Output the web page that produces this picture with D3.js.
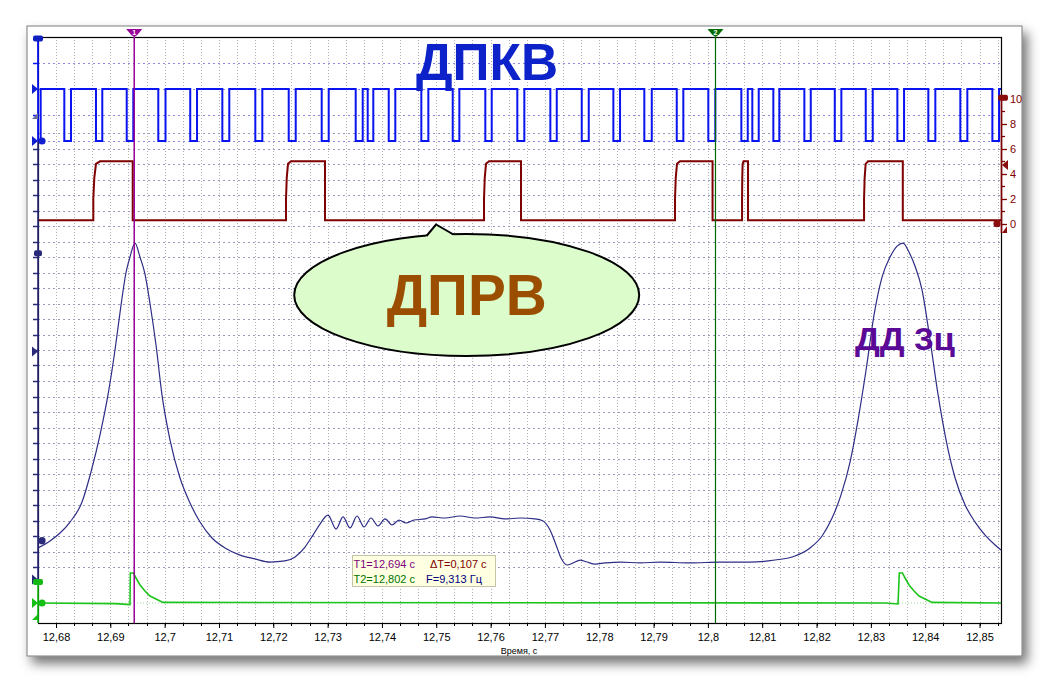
<!DOCTYPE html>
<html><head><meta charset="utf-8">
<script src="https://cdn.jsdelivr.net/npm/d3@7/dist/d3.min.js"></script>
<style>
body{margin:0;background:#fff;}
svg{display:block;font-family:"Liberation Sans",Arial,sans-serif;}
</style>
</head><body>
<svg id="c" width="1049" height="684"></svg>
<script>
// ---------- DATA ----------
const xTickValues = [12.68,12.69,12.70,12.71,12.72,12.73,12.74,12.75,12.76,12.77,12.78,12.79,12.80,12.81,12.82,12.83,12.84,12.85];
const xTickLabels = ["12,68","12,69","12,7","12,71","12,72","12,73","12,74","12,75","12,76","12,77","12,78","12,79","12,8","12,81","12,82","12,83","12,84","12,85"];
const redTickValues = [0,1,2,3,4,5,6,7,8,9,10];
const redTickLabels = ["0","","2","","4","","6","","8","","10"];
const xAxisTitle = "Время, с";

// ДПКВ (crankshaft sensor) – low intervals of the square wave (s)
const dpkvLowStart = [12.67669,12.68153,12.68736,12.69302,12.69883,12.70471,12.71062,12.71669,12.72284,12.72891,12.73517,12.73738,12.74125,12.74725,12.75303,12.75903,12.76492,12.77100,12.77678,12.78260,12.78830,12.79427,12.80008,12.80616,12.80818,12.81205,12.81776,12.82336,12.82906,12.83488,12.84058,12.84647,12.85237];
const dpkvLowEnd   = [12.67718,12.68276,12.68852,12.69423,12.70016,12.70596,12.71190,12.71798,12.72413,12.73020,12.73646,12.73841,12.74246,12.74854,12.75425,12.76021,12.76621,12.77218,12.77807,12.78383,12.78967,12.79548,12.80137,12.80734,12.80936,12.81315,12.81894,12.82457,12.83035,12.83611,12.84187,12.84776,12.85360];
const dpkvHigh = 2, dpkvLow = 0;

// ДПРВ (camshaft sensor) pulses
const prvRise = [12.68687,12.72234,12.75879,12.79395,12.80629,12.82875];
const prvTop  = [12.68810,12.72326,12.75971,12.79487,12.80656,12.82949];
const prvFall = [12.69412,12.72952,12.76560,12.80086,12.80739,12.83588];
const prvLow = 0.27, prvHigh = 5.0;

// ДД 3ц (pressure sensor, cylinder 3)
const ddTime = [12.67669,12.67890,12.68074,12.68258,12.68479,12.68644,12.68810,12.68957,12.69086,12.69197,12.69289,12.69362,12.69454,12.69546,12.69638,12.69730,12.69841,12.69951,12.70099,12.70283,12.70467,12.70651,12.70872,12.71111,12.71388,12.71664,12.71940,12.72216,12.72400,12.72584,12.72731,12.72860,12.73007,12.73155,12.73284,12.73413,12.73541,12.73670,12.73799,12.73928,12.74057,12.74186,12.74314,12.74443,12.74590,12.74793,12.74922,12.75161,12.75437,12.75714,12.75990,12.76266,12.76542,12.76818,12.76965,12.77094,12.77205,12.77297,12.77407,12.77518,12.77647,12.77776,12.77923,12.78107,12.78383,12.78751,12.79119,12.79672,12.80224,12.80776,12.81236,12.81604,12.81881,12.82102,12.82286,12.82451,12.82617,12.82764,12.82912,12.83059,12.83206,12.83354,12.83483,12.83593,12.83704,12.83814,12.83943,12.84090,12.84238,12.84385,12.84551,12.84735,12.84919,12.85103,12.85287,12.85396];
const ddValue = [2.23,2.68,3.19,3.90,5.19,7.13,9.52,12.10,15.00,17.90,20.00,21.00,21.90,21.00,19.90,18.00,15.32,12.10,9.19,6.74,5.13,3.90,2.87,2.23,1.77,1.52,1.32,1.39,1.65,2.29,3.06,3.77,4.35,3.45,4.23,3.52,4.29,3.58,4.16,3.65,4.10,3.71,4.03,3.84,4.03,4.10,4.23,4.16,4.29,4.16,4.23,4.10,4.16,4.10,3.97,3.39,2.42,1.58,1.13,1.26,1.45,1.32,1.19,1.26,1.32,1.26,1.32,1.26,1.32,1.32,1.45,1.71,2.23,3.00,4.16,5.65,7.77,10.48,13.71,17.26,19.70,21.00,21.70,21.90,21.30,20.40,18.87,15.65,12.10,9.19,6.74,5.00,3.90,3.06,2.42,2.10];

// green channel (ignition pulses)
const grTime  = [12.67669,12.69086,12.69362,12.69368,12.69427,12.69473,12.69546,12.69638,12.69730,12.69841,12.69970,12.83261,12.83500,12.83524,12.83583,12.83629,12.83703,12.83795,12.83887,12.83998,12.84127,12.85396];
const grValue = [0,-0.03,-0.08,1.5,1.5,1.25,0.9,0.6,0.35,0.2,0.03,0,-0.05,1.5,1.5,1.25,0.9,0.6,0.35,0.2,0.03,0];

// cursors
const cursorTime  = [12.6944, 12.8014];
const cursorName  = ["1","2"];
const cursorColor = ["#960096","#006a00"];
const readoutLines = [
  [{t:"T1=12,694 с", c:"#7d007d"}, {t:"ΔT=0,107 с", c:"#800000"}],
  [{t:"T2=12,802 с", c:"#007400"}, {t:"F=9,313 Гц", c:"#000080"}]
];
const labels = {title:"ДПКВ", balloon:"ДПРВ", dd:"ДД 3ц"};

// ---------- CHART ----------
const svg = d3.select("#c");
const L = 38, R = 1001, T = 37, B = 623;
const x = d3.scaleLinear().domain([12.68, 12.85]).range([56, 979.5]);
const tStart = x.invert(L), tEnd = x.invert(R);
const yK = d3.scaleLinear().domain([0, 4]).range([141, 37]);      // ДПКВ
const yR = d3.scaleLinear().domain([0, 10]).range([223.7, 99]);    // ДПРВ
const yD = d3.scaleLinear().domain([0, 29]).range([582.5, 133]);   // ДД
const yG = d3.scaleLinear().domain([-1, 1]).range([623, 583]);     // green

const defs = svg.append("defs");
const f = defs.append("filter").attr("id","sh").attr("x","-5%").attr("y","-5%").attr("width","112%").attr("height","115%");
f.append("feDropShadow").attr("dx",5).attr("dy",7).attr("stdDeviation",6).attr("flood-color","#000").attr("flood-opacity",0.55);
defs.append("clipPath").attr("id","clip").append("rect").attr("x",L).attr("y",T).attr("width",R-L).attr("height",B-T);

// panel
svg.append("rect").attr("x",27).attr("y",26).attr("width",995).attr("height",630)
  .attr("fill","#fff").attr("stroke","#7c7c7c").attr("filter","url(#sh)");

// grid
const gGrid = svg.append("g");
const gridT = d3.range(-1, 53).map(k => 12.68 + k*0.01/3).filter(t => t > tStart + 1e-6 && t < tEnd - 1e-6);
gGrid.selectAll(".vg").data(gridT).join("line")
  .attr("x1", d => Math.round(x(d))+0.5).attr("x2", d => Math.round(x(d))+0.5)
  .attr("y1", T).attr("y2", B).attr("stroke","#b2b2b2").attr("stroke-dasharray","1,2");
gGrid.selectAll(".hd").data(d3.range(1,30)).join("line")
  .attr("x1",L).attr("x2",R).attr("y1", d => Math.round(yD(d))+0.5).attr("y2", d => Math.round(yD(d))+0.5)
  .attr("stroke","#9a9abc").attr("stroke-dasharray","2,3");
gGrid.selectAll(".hk").data([0,1,2,3]).join("line")
  .attr("x1",L).attr("x2",R).attr("y1", d => Math.round(yK(d))+0.5).attr("y2", d => Math.round(yK(d))+0.5)
  .attr("stroke","#8a8ade").attr("stroke-dasharray","2,3");

// traces
const gT = svg.append("g").attr("clip-path","url(#clip)");

// green baseline dotted
gT.append("line").attr("x1",L).attr("x2",R).attr("y1",yG(0)).attr("y2",yG(0))
  .attr("stroke","#9edc9e").attr("stroke-dasharray","1,2");

// ДПКВ
const kPts = [];
dpkvLowStart.forEach((s,i) => {
  const e = dpkvLowEnd[i];
  kPts.push([s, dpkvHigh], [s, dpkvLow], [e, dpkvLow], [e, dpkvHigh]);
});
kPts.push([tEnd, dpkvHigh]);
gT.append("path").attr("d", d3.line().x(d => x(d[0])).y(d => yK(d[1]))(kPts))
  .attr("fill","none").attr("stroke","#0a14f0").attr("stroke-width",2);

// ДПРВ
const rPts = [[tStart, prvLow]];
prvRise.forEach((s,i) => {
  const w = prvTop[i] - s;
  rPts.push([s, prvLow], [s, 2.0], [s + 0.15*w, 3.7], [s + 0.4*w, 4.8], [prvTop[i], prvHigh],
            [prvFall[i], prvHigh], [prvFall[i], prvLow]);
});
rPts.push([tEnd, prvLow]);
gT.append("path").attr("d", d3.line().x(d => x(d[0])).y(d => yR(d[1]))(rPts))
  .attr("fill","none").attr("stroke","#7e0000").attr("stroke-width",2);

// ДД
gT.append("path").attr("d", d3.line().x((d,i) => x(ddTime[i])).y(d => yD(d)).curve(d3.curveMonotoneX)(ddValue))
  .attr("fill","none").attr("stroke","#2d2d85").attr("stroke-width",1.2);

// green
gT.append("path").attr("d", d3.line().x((d,i) => x(grTime[i])).y(d => yG(d))(grValue))
  .attr("fill","none").attr("stroke","#1cc41c").attr("stroke-width",1.6);

// frame
svg.append("rect").attr("x",L+0.5).attr("y",T+0.5).attr("width",R-L).attr("height",B-T)
  .attr("fill","none").attr("stroke","#000").attr("stroke-width",1.2);

// bottom axis
const axB = svg.append("g").attr("transform",`translate(0,${B})`)
  .call(d3.axisBottom(x).tickValues(xTickValues).tickSize(5).tickSizeOuter(0)
    .tickFormat((d,i) => xTickLabels[i]));
axB.select(".domain").remove();
axB.selectAll("text").attr("font-size",11).attr("font-family","Liberation Sans, Arial").attr("fill","#000").attr("dy","0.9em");
axB.selectAll("line").attr("stroke","#000");
svg.append("g").selectAll("line").data(gridT).join("line")
  .attr("x1", d => Math.round(x(d))+0.5).attr("x2", d => Math.round(x(d))+0.5)
  .attr("y1",B).attr("y2",B+3).attr("stroke","#000");
svg.append("text").attr("x",519).attr("y",654).attr("text-anchor","middle")
  .attr("font-size",9).text(xAxisTitle);

// left axes
const gl = svg.append("g");
gl.append("line").attr("x1",L).attr("x2",L).attr("y1",yD(0)).attr("y2",yK(0)).attr("stroke","#2a2a7a").attr("stroke-width",1.6);
gl.selectAll(".td").data(d3.range(1,29)).join("line")
  .attr("x1",L-5).attr("x2",L).attr("y1", d => Math.round(yD(d))+0.5).attr("y2", d => Math.round(yD(d))+0.5)
  .attr("stroke","#2a2a7a").attr("stroke-width",1.5);
gl.append("line").attr("x1",L).attr("x2",L).attr("y1",yK(4)).attr("y2",yK(0)).attr("stroke","#0a14f0").attr("stroke-width",1.8);
gl.selectAll(".tk").data([1,3]).join("line")
  .attr("x1",L-5).attr("x2",L).attr("y1", d => Math.round(yK(d))+0.5).attr("y2", d => Math.round(yK(d))+0.5)
  .attr("stroke","#0a14f0").attr("stroke-width",1.5);
gl.append("line").attr("x1",L).attr("x2",L).attr("y1",yG(1)).attr("y2",B).attr("stroke","#10c010").attr("stroke-width",1.6);

// right (ДПРВ) axis
const gr = svg.append("g");
gr.append("line").attr("x1",R+0.5).attr("x2",R+0.5).attr("y1",yR(10.2)).attr("y2",yR(-0.75)).attr("stroke","#800000").attr("stroke-width",1.6);
gr.selectAll(".tr").data(redTickValues).join("line")
  .attr("x1",R).attr("x2",(d,i) => R + (i%2===0 ? 6 : 4))
  .attr("y1", d => Math.round(yR(d))+0.5).attr("y2", d => Math.round(yR(d))+0.5)
  .attr("stroke","#800000").attr("stroke-width",1.3);
gr.selectAll(".lr").data(redTickValues).join("text")
  .attr("x",1010).attr("y", d => yR(d)).attr("dy","0.36em")
  .attr("font-size",11).attr("fill","#800000").text((d,i) => redTickLabels[i]);

// markers
const gm = svg.append("g");
function triR(cx, cy, col){ gm.append("path").attr("d",`M${cx-6},${cy-5}L${cx},${cy}L${cx-6},${cy+5}Z`).attr("fill",col); }
function triL(cx, cy, col){ gm.append("path").attr("d",`M${cx+6},${cy-5}L${cx},${cy}L${cx+6},${cy+5}Z`).attr("fill",col); }
function triC(cx, cy, col){ gm.append("path").attr("d",`M${cx},${cy-6}L${cx},${cy}L${cx-6},${cy}Z`).attr("fill",col); }
function dot(cx, cy, col){ gm.append("circle").attr("cx",cx).attr("cy",cy).attr("r",3.6).attr("fill",col); }
function pill(x0, cy, w, col){ gm.append("rect").attr("x",x0).attr("y",cy-3).attr("width",w).attr("height",6).attr("rx",2).attr("fill",col); }
pill(33, yK(4)+1.5, 10, "#1020c0");
triR(38, yK(2), "#1020d0");
triC(38, yK(0.85), "#6a6a9a");
triR(38, yK(0), "#1020d0"); dot(42, yK(0), "#1020d0");
pill(34, yD(21.25), 8, "#2a2a7a");
triR(38, yD(14.9), "#2a2a7a");
dot(42, yD(2.7), "#2a2a7a");
triR(38, yD(0.2), "#2a2a7a");
pill(33, yG(1)-1, 10, "#14b814");
triR(38, yG(0), "#14c014"); dot(42, yG(0), "#14c014");
triC(38, yG(-0.85), "#14c014");
pill(998, yR(10.1), 10, "#8a0c0c");
triL(1002, yR(4.7), "#8a0c0c");
dot(997, yR(0), "#8a0c0c");
gm.append("path").attr("d",`M${R+6},${yR(-0.2)}L${R+6},${yR(-0.75)}L${R+1},${yR(-0.75)}Z`).attr("fill","#8a0c0c");

// cursors
const gc = svg.append("g");
cursorTime.forEach((t,i) => {
  const cx = x(t);
  gc.append("line").attr("x1",cx).attr("x2",cx).attr("y1",T).attr("y2",B)
    .attr("stroke",cursorColor[i]).attr("stroke-width", i===0 ? 1.5 : 1.2);
  gc.append("path").attr("d",`M${cx-8},${T-8}L${cx+8},${T-8}L${cx+3},${T-2}L${cx},${T}L${cx-3},${T-2}Z`).attr("fill",cursorColor[i]);
  gc.append("text").attr("x",cx).attr("y",T-2.5).attr("text-anchor","middle").attr("font-size",7).attr("font-weight","bold")
    .attr("fill","#fff").text(cursorName[i]);
});

// title
svg.append("text").attr("x",487).attr("y",80).attr("text-anchor","middle")
  .attr("font-size",52).attr("font-weight","bold").attr("fill","#0d22c8")
  .attr("textLength",142).attr("lengthAdjust","spacingAndGlyphs").text(labels.title);

// balloon
const gb = svg.append("g");
gb.append("ellipse").attr("cx",466.7).attr("cy",295).attr("rx",172.5).attr("ry",61)
  .attr("fill","#dcfccb").attr("stroke","#000").attr("stroke-width",2);
gb.append("path").attr("d","M425,238L436,224.5L455,236.5Z").attr("fill","#dcfccb");
gb.append("path").attr("d","M426.5,236L436,224.5L453.5,234.5").attr("fill","none").attr("stroke","#000").attr("stroke-width",2);
gb.append("text").attr("x",466.7).attr("y",315).attr("text-anchor","middle")
  .attr("font-size",58).attr("font-weight","bold").attr("fill","#9c4e00")
  .attr("textLength",160).attr("lengthAdjust","spacingAndGlyphs").text(labels.balloon);

// ДД label
svg.append("text").attr("x",855).attr("y",350)
  .attr("font-size",32).attr("font-weight","bold").attr("fill","#5a0a96")
  .attr("textLength",100).attr("lengthAdjust","spacingAndGlyphs").text(labels.dd);

// readout box
const gx = svg.append("g");
gx.append("rect").attr("x",352.5).attr("y",555.5).attr("width",143).attr("height",31)
  .attr("fill","#ffffe1").attr("stroke","#c4c4a8");
const colX = [353.5, 430];
readoutLines.forEach((line, r) => {
  line.forEach((item, c) => {
    gx.append("text").attr("x", c===1 && r===1 ? 426 : colX[c]).attr("y", 568.3 + r*15)
      .attr("font-size",11).attr("fill",item.c).text(item.t);
  });
});
</script>
</body></html>
